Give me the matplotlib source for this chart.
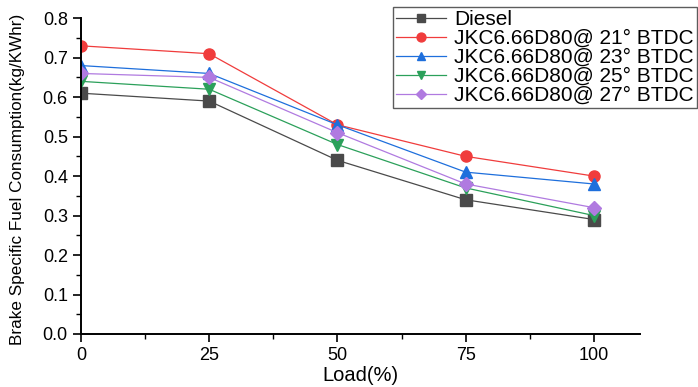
import matplotlib
matplotlib.use('Agg')
import matplotlib.pyplot as plt
from matplotlib.ticker import MultipleLocator

plt.rcParams['font.family'] = ['Liberation Sans', 'DejaVu Sans']

# data
load = [0, 25, 50, 75, 100]
diesel = [0.61, 0.59, 0.44, 0.34, 0.29]
btdc21 = [0.73, 0.71, 0.53, 0.45, 0.40]
btdc23 = [0.68, 0.66, 0.53, 0.41, 0.38]
btdc25 = [0.64, 0.62, 0.48, 0.37, 0.30]
btdc27 = [0.66, 0.65, 0.51, 0.38, 0.32]

series = [
    ("Diesel", diesel, '#4a4a4a', 's'),
    ("JKC6.66D80@ 21° BTDC", btdc21, '#f03c3c', 'o'),
    ("JKC6.66D80@ 23° BTDC", btdc23, '#1e6fdc', '^'),
    ("JKC6.66D80@ 25° BTDC", btdc25, '#2ba05a', 'v'),
    ("JKC6.66D80@ 27° BTDC", btdc27, '#b07ae0', 'D'),
]

fig = plt.figure(figsize=(6.98, 3.87), dpi=100)
ax = fig.add_axes([0.116, 0.137, 0.801, 0.816])

for name, vals, col, mk in series:
    ms = 7 if mk == 'D' else 8
    ax.plot(load, vals, color=col, marker=mk, markersize=ms, linewidth=0.9,
            label=name, zorder=3)

ax.set_xlim(0, 109)
ax.set_ylim(0, 0.8)
ax.xaxis.set_major_locator(MultipleLocator(25))
ax.xaxis.set_minor_locator(MultipleLocator(12.5))
ax.yaxis.set_major_locator(MultipleLocator(0.1))
ax.yaxis.set_minor_locator(MultipleLocator(0.05))
ax.yaxis.set_major_formatter(plt.FormatStrFormatter('%.1f'))

ax.spines['top'].set_visible(False)
ax.spines['right'].set_visible(False)
ax.spines['left'].set_linewidth(1.4)
ax.spines['bottom'].set_linewidth(1.4)
ax.spines['left'].set_zorder(5)
ax.tick_params(which='major', direction='out', length=6, width=1.2, labelsize=13)
ax.tick_params(which='minor', direction='out', length=3.5, width=1.0)

ax.set_xlabel('Load(%)', fontsize=14.5, labelpad=1)
ax.set_ylabel('Brake Specific Fuel Consumption(kg/KWhr)', fontsize=12.3)
ax.yaxis.set_label_coords(-0.1, 0.49)

leg = ax.legend(loc='upper left', bbox_to_anchor=(393 / 698, 1 - 7 / 387),
                bbox_transform=fig.transFigure, fontsize=15, frameon=True,
                fancybox=False, edgecolor='#333333', borderpad=0.15,
                labelspacing=0.0, handlelength=2.4, handletextpad=0.4,
                borderaxespad=0, markerscale=0.8)
leg.get_frame().set_linewidth(1.0)

fig.savefig('out.png', dpi=100)
